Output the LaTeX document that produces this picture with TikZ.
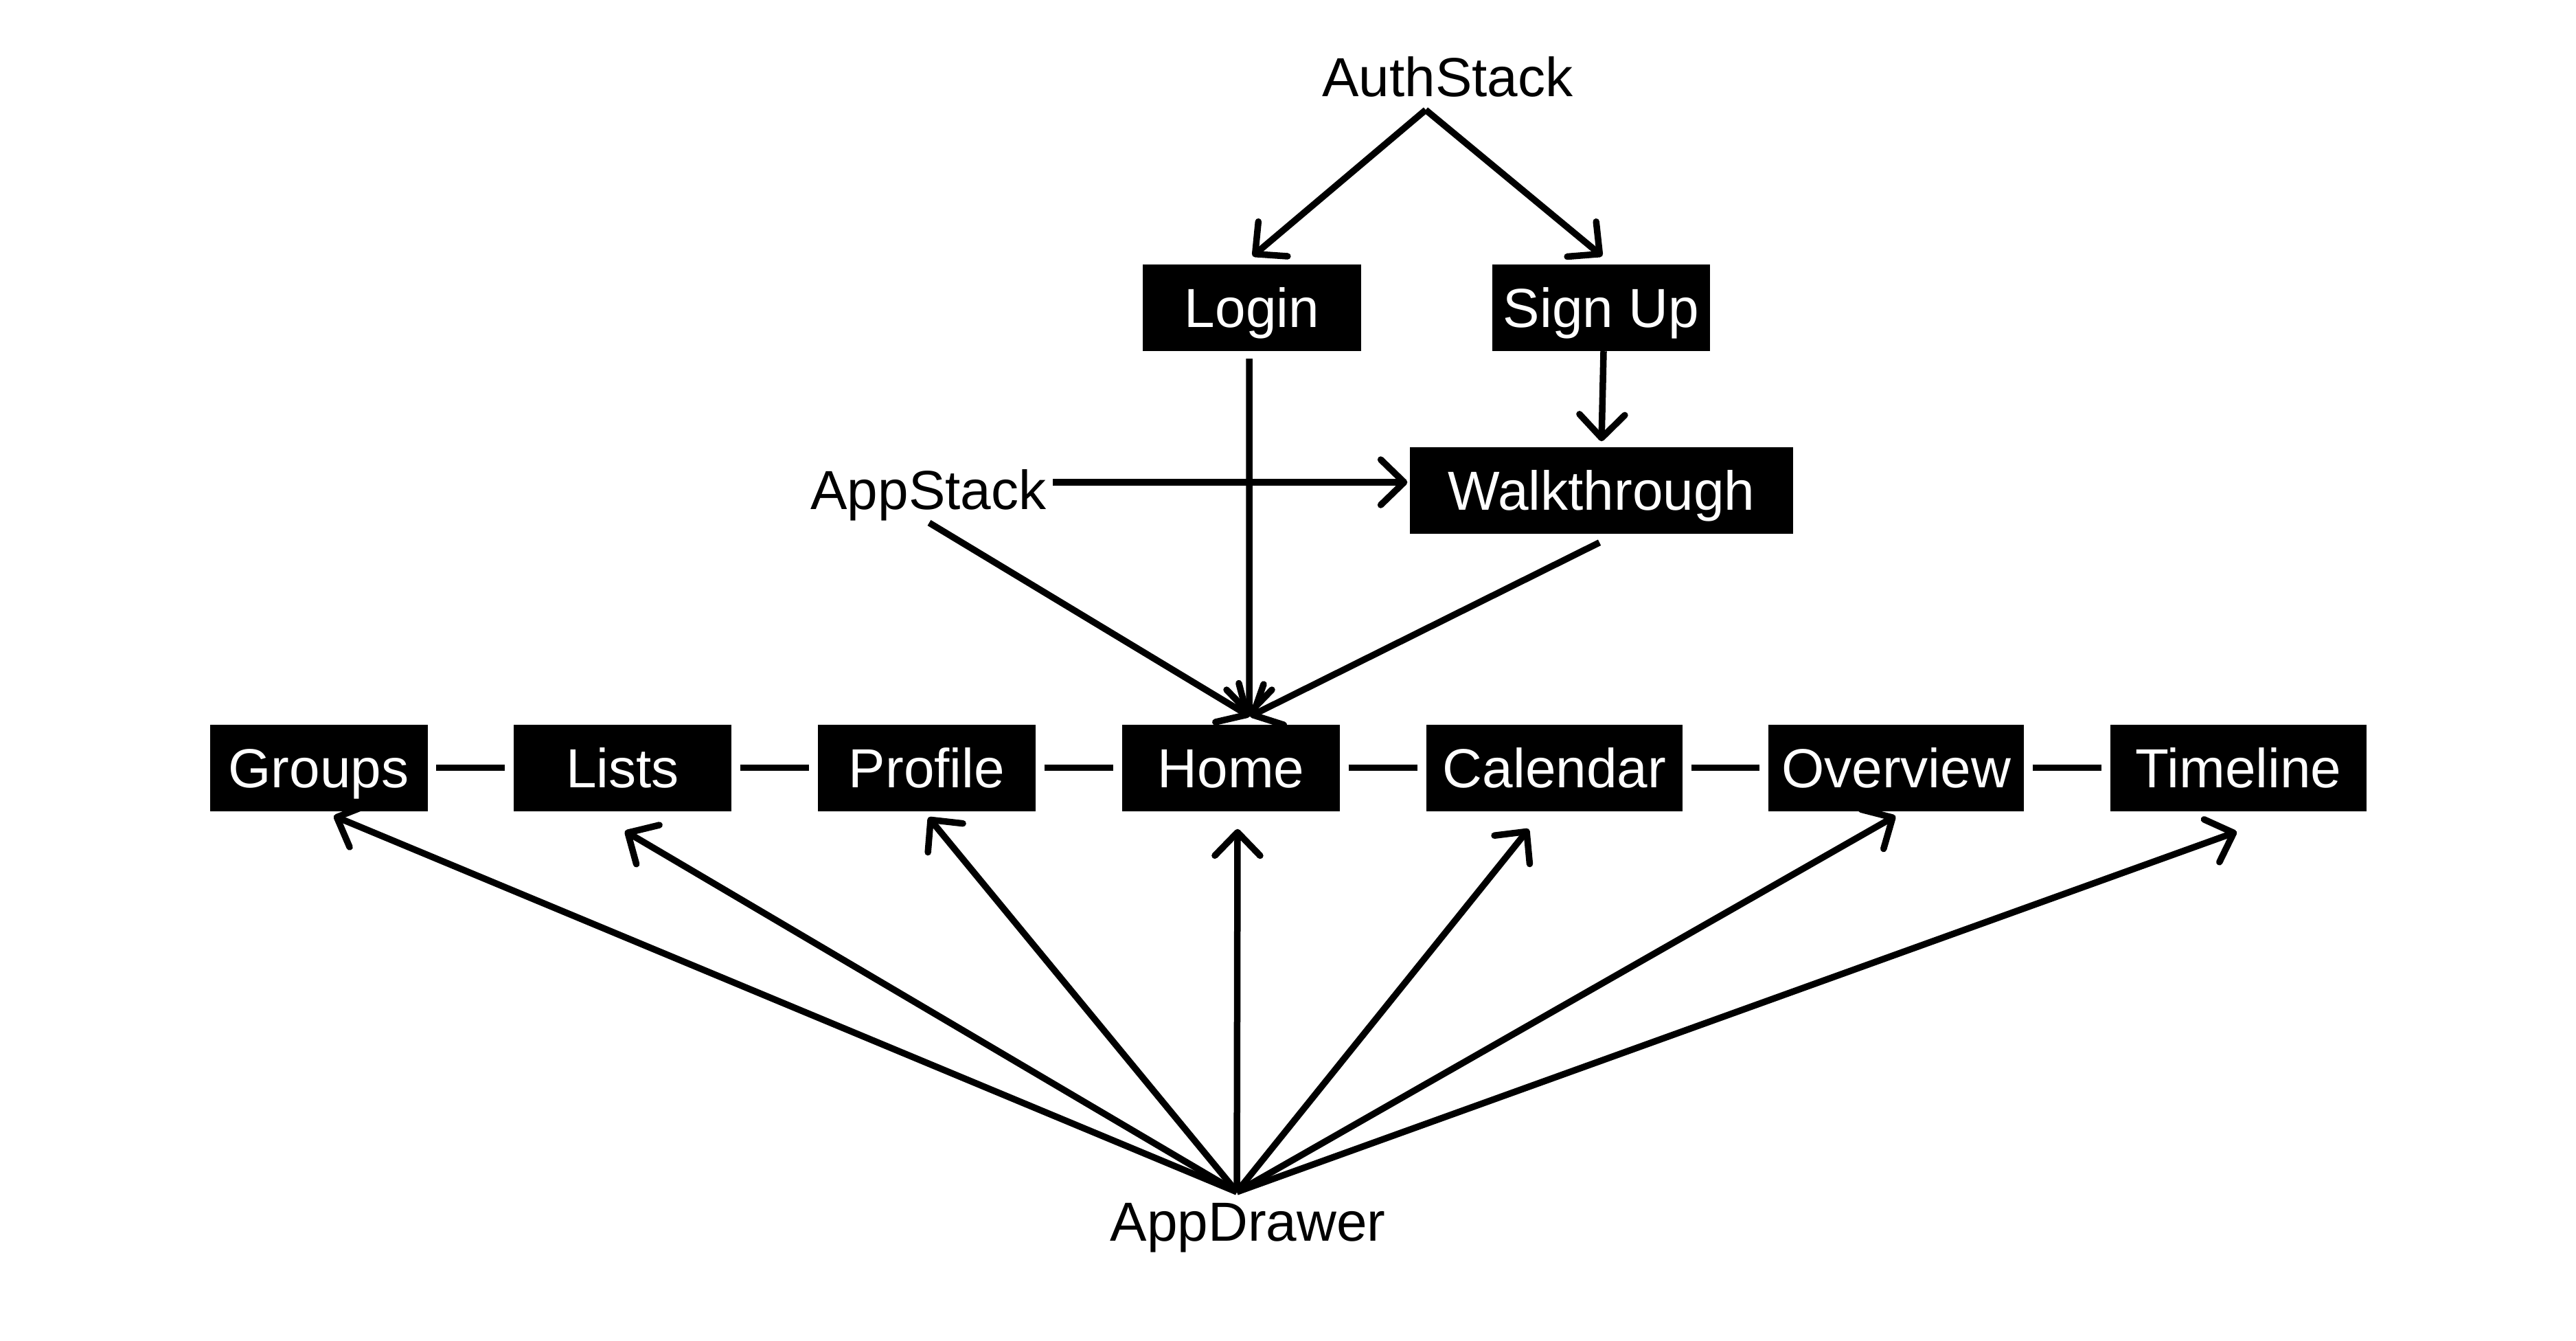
\documentclass[tikz,border=0pt]{standalone}
\usepackage{fontspec}
\setmainfont{Liberation Sans}
\usetikzlibrary{arrows.meta}
\newcommand\dgfont{\fontsize{22.8pt}{27pt}\selectfont}
\tikzset{
  box/.style={fill=black, text=white, minimum height=1.26cm, inner sep=0pt,
    text height=0.57cm, text depth=0pt, font=\dgfont},
  lbl/.style={anchor=base, inner sep=0pt, font=\dgfont},
  arr/.style={line width=0.095cm, -{Straight Barb[length=0.34cm,width=0.66cm,round]}},
  conn/.style={line width=0.095cm, shorten <=0.12cm, shorten >=0.12cm},
}
\begin{document}
\begin{tikzpicture}
\useasboundingbox (0,0) rectangle (37.51,-19.51);
% labels
\node[lbl] (auth) at (21.08,-1.40) {AuthStack};
\node[lbl] (appstack) at (13.52,-7.41) {AppStack};
\node[lbl] (drawer) at (18.17,-18.06) {AppDrawer};
% boxes
\node[box, minimum width=3.18cm] (login) at (18.23,-4.475) {Login};
\node[box, minimum width=3.17cm] (signup) at (23.315,-4.475) {Sign Up};
\node[box, minimum width=5.58cm] (walk) at (23.32,-7.14) {Walkthrough};
\node[box, minimum width=3.17cm] (groups) at (4.64,-11.175) {Groups};
\node[box, minimum width=3.17cm] (lists) at (9.065,-11.175) {Lists};
\node[box, minimum width=3.17cm] (profile) at (13.495,-11.175) {Profile};
\node[box, minimum width=3.17cm] (home) at (17.925,-11.175) {Home};
\node[box, minimum width=3.73cm] (calendar) at (22.635,-11.175) {Calendar};
\node[box, minimum width=3.72cm] (overview) at (27.61,-11.175) {Overview};
\node[box, minimum width=3.73cm] (timeline) at (32.595,-11.175) {Timeline};
% connector ends
\coordinate (authsrc) at (20.76,-1.60);
\coordinate (appA) at (15.33,-7.02);
\coordinate (appB) at (13.53,-7.61);
\coordinate (drawersrc) at (18.01,-17.35);
% top arrows
\draw[arr] (authsrc) -- ([xshift=0.01cm,yshift=0.11cm]login.north);
\draw[arr] (authsrc) -- ([xshift=0.015cm,yshift=0.11cm]signup.north);
\draw[arr] ([xshift=0.035cm]signup.south) -- ([yshift=0.08cm]walk.north);
\draw[arr] ([xshift=-0.04cm,yshift=-0.11cm]login.south) -- ([xshift=0.265cm,yshift=0.11cm]home.north);
\draw[arr] (appA) -- ([xshift=-0.03cm,yshift=0.12cm]walk.west);
\draw[arr] (appB) -- ([xshift=0.275cm,yshift=0.11cm]home.north);
\draw[arr] ([xshift=-0.03cm,yshift=-0.12cm]walk.south) -- ([xshift=0.275cm,yshift=0.11cm]home.north);
% row connectors
\draw[conn] (groups) -- (lists);
\draw[conn] (lists) -- (profile);
\draw[conn] (profile) -- (home);
\draw[conn] (home) -- (calendar);
\draw[conn] (calendar) -- (overview);
\draw[conn] (overview) -- (timeline);
% drawer arrows
\draw[arr] (drawersrc) -- ([xshift=0.22cm,yshift=-0.065cm]groups.south);
\draw[arr] (drawersrc) -- ([xshift=0.035cm,yshift=-0.285cm]lists.south);
\draw[arr] (drawersrc) -- ([xshift=0.025cm,yshift=-0.085cm]profile.south);
\draw[arr] (drawersrc) -- ([xshift=0.095cm,yshift=-0.255cm]home.south);
\draw[arr] (drawersrc) -- ([xshift=-0.375cm,yshift=-0.255cm]calendar.south);
\draw[arr] (drawersrc) -- ([xshift=-0.01cm,yshift=-0.065cm]overview.south);
\draw[arr] (drawersrc) -- ([xshift=-0.025cm,yshift=-0.295cm]timeline.south);
\end{tikzpicture}
\end{document}
